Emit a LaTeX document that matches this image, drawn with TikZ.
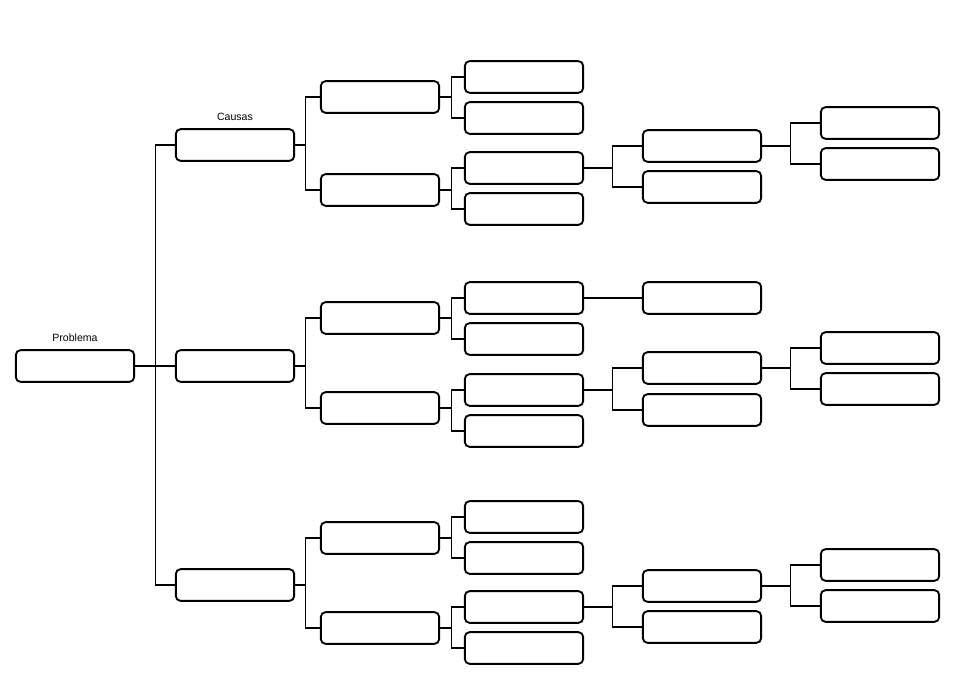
\documentclass[tikz,border=0pt]{standalone}
\usepackage{fontspec}
\setmainfont{Liberation Sans}
\usetikzlibrary{positioning}
\tikzset{box/.style={draw, line width=1.6pt, rounded corners=4pt, minimum width=3.55cm, minimum height=0.95cm},
	lbl/.style={font=\fontsize{9}{10}\selectfont},
	link/.style={line width=1pt}}
\begin{document}
\begin{tikzpicture}[x=0.03cm,y=-0.03cm]
	\useasboundingbox (0,0) rectangle (971,680);
	\node [box] (p0) at (75,366) {};
	\node [lbl, above = .1cm of p0] {Problema};
	% causas
	\node [box] (c1) at (235,145) {};
	\node [box] (c2) at (235,366) {};
	\node [box] (c3) at (235,585) {};
	\node [lbl, above = .1cm of c1] {Causas};
	\draw [link] (p0.east) -- ++(20,0) coordinate (m0) |- (c1.west);
	\draw [link] (m0) |- (c3.west);
	\draw [link] (m0) -- (c2.west);
	% nivel 2
	\node [box] (c1a) at (380,97) {};
	\node [box] (c1b) at (380,190) {};
	\node [box] (c2a) at (380,318) {};
	\node [box] (c2b) at (380,408) {};
	\node [box] (c3a) at (380,538) {};
	\node [box] (c3b) at (380,628) {};
	\draw [link] (c1.east) -- ++(10,0) coordinate (m1) |- (c1a.west);
	\draw [link] (m1) |- (c1b.west);
	\draw [link] (c2.east) -- ++(10,0) coordinate (m2) |- (c2a.west);
	\draw [link] (m2) |- (c2b.west);
	\draw [link] (c3.east) -- ++(10,0) coordinate (m3) |- (c3a.west);
	\draw [link] (m3) |- (c3b.west);
	% nivel 3
	\node [box] (d1) at (524,77) {};
	\node [box] (d2) at (524,118) {};
	\node [box] (d3) at (524,168) {};
	\node [box] (d4) at (524,209) {};
	\node [box] (d5) at (524,298) {};
	\node [box] (d6) at (524,339) {};
	\node [box] (d7) at (524,390) {};
	\node [box] (d8) at (524,431) {};
	\node [box] (d9) at (524,517) {};
	\node [box] (d10) at (524,558) {};
	\node [box] (d11) at (524,607) {};
	\node [box] (d12) at (524,648) {};
	\draw [link] (c1a.east) -- ++(11,0) coordinate (n1) |- (d1.west);
	\draw [link] (n1) |- (d2.west);
	\draw [link] (c1b.east) -- ++(11,0) coordinate (n2) |- (d3.west);
	\draw [link] (n2) |- (d4.west);
	\draw [link] (c2a.east) -- ++(11,0) coordinate (n3) |- (d5.west);
	\draw [link] (n3) |- (d6.west);
	\draw [link] (c2b.east) -- ++(11,0) coordinate (n4) |- (d7.west);
	\draw [link] (n4) |- (d8.west);
	\draw [link] (c3a.east) -- ++(11,0) coordinate (n5) |- (d9.west);
	\draw [link] (n5) |- (d10.west);
	\draw [link] (c3b.east) -- ++(11,0) coordinate (n6) |- (d11.west);
	\draw [link] (n6) |- (d12.west);
	% nivel 4
	\node [box] (e1) at (702,146) {};
	\node [box] (e2) at (702,187) {};
	\node [box] (e3) at (702,298) {};
	\node [box] (e4) at (702,368) {};
	\node [box] (e5) at (702,410) {};
	\node [box] (e6) at (702,586) {};
	\node [box] (e7) at (702,627) {};
	\draw [link] (d3.east) -- ++(28,0) coordinate (k1) |- (e1.west);
	\draw [link] (k1) |- (e2.west);
	\draw [link] (d5.east) -- (e3.west);
	\draw [link] (d7.east) -- ++(28,0) coordinate (k2) |- (e4.west);
	\draw [link] (k2) |- (e5.west);
	\draw [link] (d11.east) -- ++(28,0) coordinate (k3) |- (e6.west);
	\draw [link] (k3) |- (e7.west);
	% nivel 5
	\node [box] (f1) at (880,123) {};
	\node [box] (f2) at (880,164) {};
	\node [box] (f3) at (880,348) {};
	\node [box] (f4) at (880,389) {};
	\node [box] (f5) at (880,565) {};
	\node [box] (f6) at (880,606) {};
	\draw [link] (e1.east) -- ++(28,0) coordinate (j1) |- (f1.west);
	\draw [link] (j1) |- (f2.west);
	\draw [link] (e4.east) -- ++(28,0) coordinate (j2) |- (f3.west);
	\draw [link] (j2) |- (f4.west);
	\draw [link] (e6.east) -- ++(28,0) coordinate (j3) |- (f5.west);
	\draw [link] (j3) |- (f6.west);
\end{tikzpicture}
\end{document}
